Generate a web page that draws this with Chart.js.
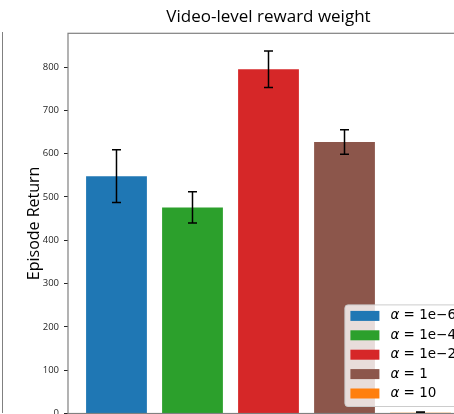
<!DOCTYPE html>
<html>
<head>
<meta charset="utf-8">
<script src="https://cdn.jsdelivr.net/npm/chart.js@4"></script>
<style>
  html, body { margin: 0; padding: 0; background: #fff; }
  #wrap { position: relative; width: 454px; height: 414px; overflow: hidden; background: #fff; }
  #prev-spine { position: absolute; left: 2px; top: 32px; height: 381px; border-left: 1.3px solid #808080; }
  #c { position: absolute; left: 0; top: 0; }
</style>
</head>
<body>
<div id="wrap">
  <div id="prev-spine"></div>
  <canvas id="c" width="537" height="450"></canvas>
</div>
<script>
// Reward-weight sweep: mean episode return and its spread per alpha setting
const weights = ['α = 1e−6', 'α = 1e−4', 'α = 1e−2', 'α = 1', 'α = 10'];
const positions = [0, 1, 2, 3, 4];
const returns = [548, 476, 795, 627, 2];
const spreads = [61, 36, 42, 28.5, 1.5];
const colors = ['#1f77b4', '#2ca02c', '#d62728', '#8c564b', '#ff7f0e'];
const yTicks = [0, 100, 200, 300, 400, 500, 600, 700, 800];

const points = positions.map((p, i) => ({ x: p, y: returns[i] }));

// Frame around the plot area
const frame = {
  id: 'frame',
  afterDraw(chart) {
    const { ctx, chartArea: a } = chart;
    ctx.save();
    ctx.strokeStyle = '#808080';
    ctx.lineWidth = 1.2;
    ctx.strokeRect(a.left, a.top, a.right - a.left, a.bottom - a.top);
    ctx.restore();
  }
};

// Vertical error bars with caps
const errorBars = {
  id: 'errorBars',
  afterDatasetsDraw(chart) {
    const { ctx } = chart;
    const meta = chart.getDatasetMeta(0);
    const y = chart.scales.y;
    ctx.save();
    ctx.strokeStyle = '#000';
    ctx.lineWidth = 1.5;
    meta.data.forEach((bar, i) => {
      const hi = y.getPixelForValue(returns[i] + spreads[i]);
      const lo = y.getPixelForValue(returns[i] - spreads[i]);
      const x = bar.x;
      ctx.beginPath();
      ctx.moveTo(x, hi); ctx.lineTo(x, lo);
      ctx.moveTo(x - 4.5, hi); ctx.lineTo(x + 4.5, hi);
      ctx.moveTo(x - 4.5, lo); ctx.lineTo(x + 4.5, lo);
      ctx.stroke();
    });
    ctx.restore();
  }
};

// Legend box in the lower right of the plot area
const insetLegend = {
  id: 'insetLegend',
  afterDraw(chart) {
    const { ctx, chartArea: a } = chart;
    const size = 13.5;
    const italic = `italic ${size}px "DejaVu Sans"`;
    const upright = `${size}px "DejaVu Sans"`;
    ctx.save();
    const parts = weights.map(w => ({ sym: w.slice(0, 1), rest: w.slice(1) }));
    let textW = 0;
    parts.forEach(p => {
      ctx.font = italic; const w1 = ctx.measureText(p.sym).width;
      ctx.font = upright; const w2 = ctx.measureText(p.rest).width;
      textW = Math.max(textW, w1 + w2);
    });
    const padL = 5.5, swW = 29, swH = 10, gap = 11, padR = 6;
    const rowH = 19.4, padT = 11, padB = 13;
    const boxW = padL + swW + gap + textW + padR;
    const boxH = padT + rowH * (weights.length - 1) + padB;
    const right = a.right - 7, bottom = a.bottom - 7;
    const left = right - boxW, top = bottom - boxH;
    const r = 3;
    ctx.beginPath();
    ctx.moveTo(left + r, top);
    ctx.lineTo(right - r, top); ctx.arcTo(right, top, right, top + r, r);
    ctx.lineTo(right, bottom - r); ctx.arcTo(right, bottom, right - r, bottom, r);
    ctx.lineTo(left + r, bottom); ctx.arcTo(left, bottom, left, bottom - r, r);
    ctx.lineTo(left, top + r); ctx.arcTo(left, top, left + r, top, r);
    ctx.closePath();
    ctx.fillStyle = 'rgba(255,255,255,0.8)';
    ctx.fill();
    ctx.strokeStyle = '#cccccc';
    ctx.lineWidth = 1;
    ctx.stroke();
    ctx.textBaseline = 'middle';
    ctx.textAlign = 'left';
    parts.forEach((p, i) => {
      const cy = top + padT + rowH * i;
      ctx.fillStyle = colors[i];
      ctx.fillRect(left + padL, cy - swH / 2, swW, swH);
      ctx.fillStyle = '#000';
      let tx = left + padL + swW + gap;
      ctx.font = italic;
      ctx.fillText(p.sym, tx, cy);
      tx += ctx.measureText(p.sym).width;
      ctx.font = upright;
      ctx.fillText(p.rest, tx, cy);
    });
    ctx.restore();
  }
};

new Chart(document.getElementById('c'), {
  type: 'bar',
  data: {
    datasets: [{
      label: 'Episode Return',
      data: points,
      backgroundColor: colors,
      borderWidth: 0,
      barPercentage: 1.0,
      categoryPercentage: 0.8
    }]
  },
  options: {
    responsive: false,
    animation: false,
    devicePixelRatio: 1,
    layout: { padding: { left: 0, right: 68, top: 0, bottom: 0 } },
    plugins: {
      legend: { display: false },
      tooltip: { enabled: false },
      title: {
        display: true,
        fullSize: false,
        text: 'Video-level reward weight',
        color: '#000',
        font: { family: '"Open Sans"', size: 17, weight: 'normal' },
        padding: { top: 6.5, bottom: 6.4 }
      }
    },
    scales: {
      x: {
        type: 'linear',
        offset: false,
        min: -0.638,
        max: 4.638,
        ticks: { display: false, stepSize: 1, includeBounds: false },
        grid: { display: false, offset: false },
        border: { display: false },
        afterFit(scale) { scale.height = 36.5; }
      },
      y: {
        min: 0,
        max: 878,
        afterBuildTicks(scale) { scale.ticks = yTicks.map(v => ({ value: v })); },
        ticks: {
          color: '#262626',
          font: { family: '"Open Sans"', size: 9.5 },
          padding: 5
        },
        grid: {
          display: true,
          drawOnChartArea: false,
          drawTicks: true,
          tickLength: 4,
          tickColor: '#262626',
          tickWidth: 1
        },
        border: { display: false },
        title: {
          display: true,
          text: 'Episode Return',
          color: '#000',
          font: { family: '"Open Sans"', size: 16, weight: 'normal' },
          padding: { top: 24.8, bottom: 0 }
        },
        afterFit(scale) { scale.width = 68; }
      }
    }
  },
  plugins: [errorBars, frame, insetLegend]
});
</script>
</body>
</html>
